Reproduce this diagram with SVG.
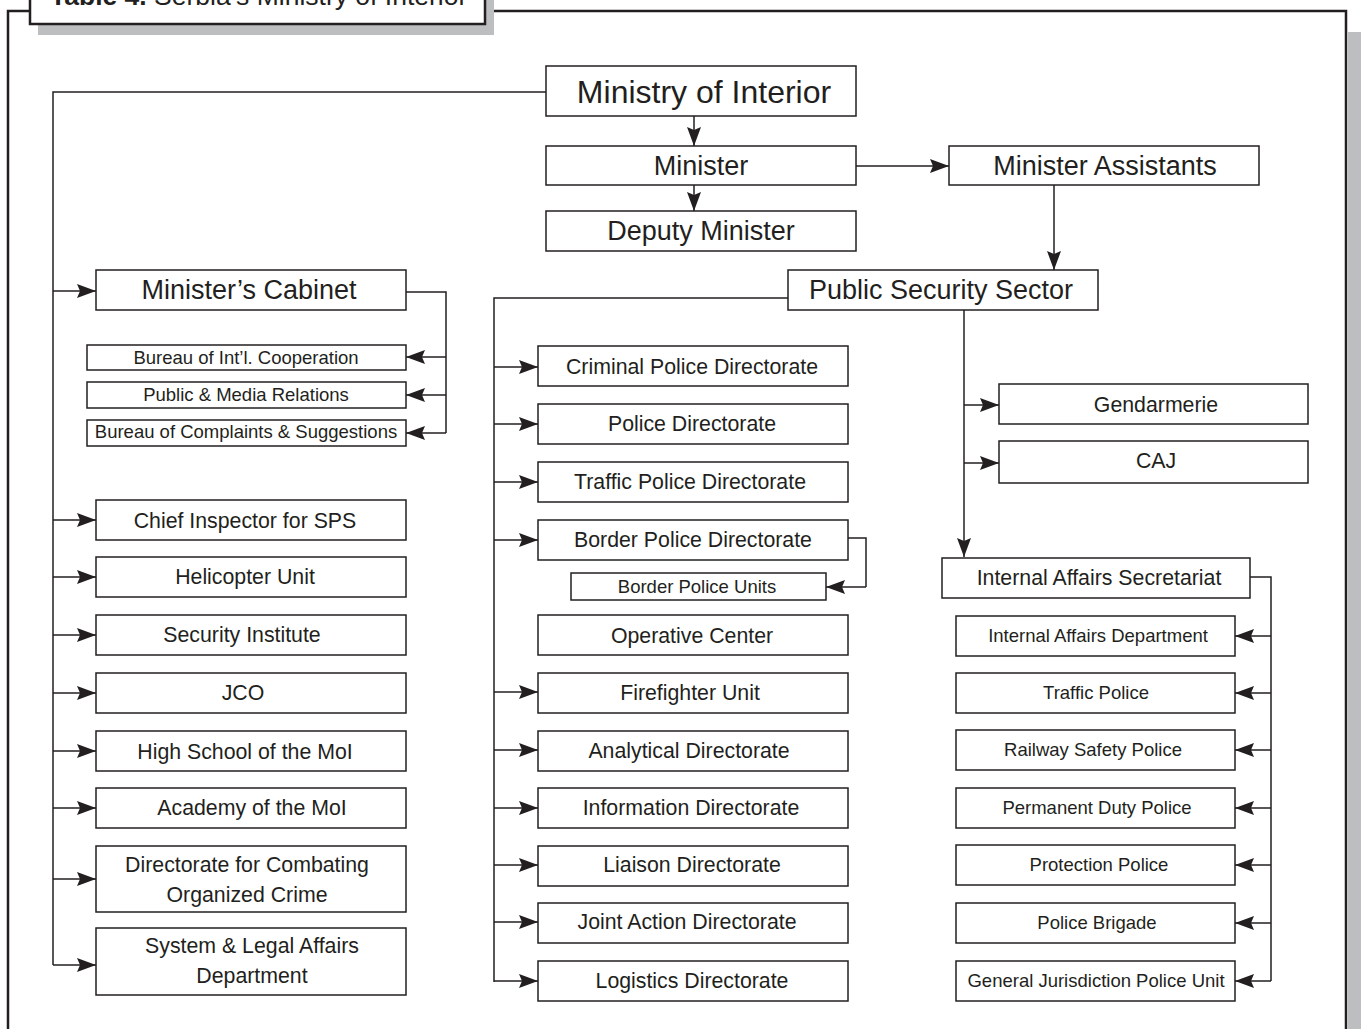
<svg xmlns="http://www.w3.org/2000/svg" width="1361" height="1029" viewBox="0 0 1361 1029">
<style>
.box{fill:#fff;stroke:#231f20;stroke-width:1.5}
.t{font-family:"Liberation Sans",Arial,sans-serif;fill:#231f20;text-anchor:middle}
.big{font-size:27px}
.mid{font-size:21.3px}
.sm{font-size:18.5px}
.l{fill:none;stroke:#231f20;stroke-width:1.5}
.a{fill:none;stroke:#231f20;stroke-width:1.5;marker-end:url(#ah)}
</style>
<defs>
<marker id="ah" markerUnits="userSpaceOnUse" markerWidth="20" markerHeight="16" refX="19" refY="8" orient="auto">
<path d="M0,1 L19,8 L0,15 L3,8 Z" fill="#231f20"/>
</marker>
</defs>
<rect width="1361" height="1029" fill="#fff"/>
<rect x="1348" y="32" width="13" height="1000" fill="#bcbec0"/>
<path d="M8,1029 V11 H1346 V1029" fill="none" stroke="#231f20" stroke-width="2.5"/>
<g id="title">
<rect x="38" y="-5" width="456" height="40" fill="#bcbec0"/>
<rect x="30" y="-5" width="455" height="29" fill="#fff" stroke="#231f20" stroke-width="2.5"/>
<text x="50" y="5" font-family="Liberation Sans,Arial,sans-serif" font-size="26.5" fill="#231f20"><tspan font-weight="bold">Table  4.</tspan> Serbia’s Ministry of Interior</text>
</g>
<g id="connectors">
<path class="a" d="M694,116 V146"/>
<path class="a" d="M694,185 V211"/>
<path class="a" d="M856,166 H949"/>
<path class="a" d="M1054,185 V270"/>
<path class="l" d="M546,92 H53 V965"/>
<path class="a" d="M53,291 H96"/>
<path class="a" d="M53,520 H96"/>
<path class="a" d="M53,577 H96"/>
<path class="a" d="M53,635 H96"/>
<path class="a" d="M53,693 H96"/>
<path class="a" d="M53,751 H96"/>
<path class="a" d="M53,808 H96"/>
<path class="a" d="M53,879 H96"/>
<path class="a" d="M53,965 H96"/>
<path class="l" d="M406,292 H446 V433"/>
<path class="a" d="M446,357 H406"/>
<path class="a" d="M446,395 H406"/>
<path class="a" d="M446,433 H406"/>
<path class="l" d="M788,298 H494 V982"/>
<path class="a" d="M494,367 H538"/>
<path class="a" d="M494,424 H538"/>
<path class="a" d="M494,482 H538"/>
<path class="a" d="M494,540 H538"/>
<path class="a" d="M494,692 H538"/>
<path class="a" d="M494,750 H538"/>
<path class="a" d="M494,808 H538"/>
<path class="a" d="M494,865 H538"/>
<path class="a" d="M494,922 H538"/>
<path class="a" d="M494,981 H538"/>
<path class="l" d="M848,538 H866 V587"/>
<path class="a" d="M866,587 H826"/>
<path class="a" d="M964,310 V557"/>
<path class="a" d="M964,405 H999"/>
<path class="a" d="M964,463 H999"/>
<path class="l" d="M1250,577 H1271 V981"/>
<path class="a" d="M1271,636 H1235"/>
<path class="a" d="M1271,693 H1235"/>
<path class="a" d="M1271,750 H1235"/>
<path class="a" d="M1271,808 H1235"/>
<path class="a" d="M1271,865 H1235"/>
<path class="a" d="M1271,923 H1235"/>
<path class="a" d="M1271,981 H1235"/>
</g>
<g id="n-ministry"><rect class="box" x="546" y="66" width="310" height="50"/><text class="t" x="704" y="103" font-size="32">Ministry of Interior</text></g>
<g id="n-minister"><rect class="box" x="546" y="146" width="310" height="39"/><text class="t big" x="701" y="175">Minister</text></g>
<g id="n-deputy"><rect class="box" x="546" y="211" width="310" height="40"/><text class="t big" x="701" y="240">Deputy Minister</text></g>
<g id="n-assistants"><rect class="box" x="949" y="146" width="310" height="39"/><text class="t big" x="1105" y="175">Minister Assistants</text></g>
<g id="n-pss"><rect class="box" x="788" y="270" width="310" height="40"/><text class="t big" x="941" y="299">Public Security Sector</text></g>
<g id="n-cabinet"><rect class="box" x="96" y="270" width="310" height="40"/><text class="t big" x="249" y="299">Minister’s Cabinet</text></g>
<g id="n-bureau-intl"><rect class="box" x="87" y="345" width="319" height="25"/><text class="t sm" x="246" y="364">Bureau of Int’l. Cooperation</text></g>
<g id="n-media"><rect class="box" x="87" y="382" width="319" height="26"/><text class="t sm" x="246" y="401">Public &amp; Media Relations</text></g>
<g id="n-complaints"><rect class="box" x="87" y="420" width="319" height="26"/><text class="t sm" x="246" y="438">Bureau of Complaints &amp; Suggestions</text></g>
<g id="n-chief"><rect class="box" x="96" y="500" width="310" height="40"/><text class="t mid" x="245" y="528">Chief Inspector for SPS</text></g>
<g id="n-heli"><rect class="box" x="96" y="557" width="310" height="40"/><text class="t mid" x="245" y="584">Helicopter Unit</text></g>
<g id="n-secinst"><rect class="box" x="96" y="615" width="310" height="40"/><text class="t mid" x="242" y="642">Security Institute</text></g>
<g id="n-jco"><rect class="box" x="96" y="673" width="310" height="40"/><text class="t mid" x="243" y="700">JCO</text></g>
<g id="n-highschool"><rect class="box" x="96" y="731" width="310" height="40"/><text class="t mid" x="245" y="759">High School of the MoI</text></g>
<g id="n-academy"><rect class="box" x="96" y="788" width="310" height="40"/><text class="t mid" x="252" y="815">Academy of the MoI</text></g>
<g id="n-organized"><rect class="box" x="96" y="846" width="310" height="66"/><text class="t mid" x="247" y="872">Directorate for Combating</text><text class="t mid" x="247" y="902">Organized Crime</text></g>
<g id="n-system"><rect class="box" x="96" y="928" width="310" height="67"/><text class="t mid" x="252" y="953">System &amp; Legal Affairs</text><text class="t mid" x="252" y="983">Department</text></g>
<g id="n-criminal"><rect class="box" x="538" y="346" width="310" height="40"/><text class="t mid" x="692" y="374">Criminal Police Directorate</text></g>
<g id="n-police"><rect class="box" x="538" y="404" width="310" height="40"/><text class="t mid" x="692" y="431">Police Directorate</text></g>
<g id="n-traffic"><rect class="box" x="538" y="462" width="310" height="40"/><text class="t mid" x="690" y="489">Traffic Police Directorate</text></g>
<g id="n-border"><rect class="box" x="538" y="520" width="310" height="40"/><text class="t mid" x="693" y="547">Border Police Directorate</text></g>
<g id="n-borderunits"><rect class="box" x="571" y="573" width="255" height="27"/><text class="t sm" x="697" y="593">Border Police Units</text></g>
<g id="n-operative"><rect class="box" x="538" y="615" width="310" height="40"/><text class="t mid" x="692" y="643">Operative Center</text></g>
<g id="n-fire"><rect class="box" x="538" y="673" width="310" height="40"/><text class="t mid" x="690" y="700">Firefighter Unit</text></g>
<g id="n-analytical"><rect class="box" x="538" y="731" width="310" height="40"/><text class="t mid" x="689" y="758">Analytical Directorate</text></g>
<g id="n-information"><rect class="box" x="538" y="788" width="310" height="40"/><text class="t mid" x="691" y="815">Information Directorate</text></g>
<g id="n-liaison"><rect class="box" x="538" y="846" width="310" height="40"/><text class="t mid" x="692" y="872">Liaison Directorate</text></g>
<g id="n-joint"><rect class="box" x="538" y="903" width="310" height="40"/><text class="t mid" x="687" y="929">Joint Action Directorate</text></g>
<g id="n-logistics"><rect class="box" x="538" y="961" width="310" height="40"/><text class="t mid" x="692" y="988">Logistics Directorate</text></g>
<g id="n-gendarmerie"><rect class="box" x="999" y="384" width="309" height="40"/><text class="t mid" x="1156" y="412">Gendarmerie</text></g>
<g id="n-caj"><rect class="box" x="999" y="441" width="309" height="42"/><text class="t mid" x="1156" y="468">CAJ</text></g>
<g id="n-ias"><rect class="box" x="942" y="558" width="308" height="40"/><text class="t mid" x="1099" y="585">Internal Affairs Secretariat</text></g>
<g id="n-iad"><rect class="box" x="956" y="616" width="279" height="40"/><text class="t sm" x="1098" y="642">Internal Affairs Department</text></g>
<g id="n-trafficpolice"><rect class="box" x="956" y="673" width="279" height="40"/><text class="t sm" x="1096" y="699">Traffic Police</text></g>
<g id="n-railway"><rect class="box" x="956" y="730" width="279" height="40"/><text class="t sm" x="1093" y="756">Railway Safety Police</text></g>
<g id="n-permanent"><rect class="box" x="956" y="788" width="279" height="40"/><text class="t sm" x="1097" y="814">Permanent Duty Police</text></g>
<g id="n-protection"><rect class="box" x="956" y="845" width="279" height="40"/><text class="t sm" x="1099" y="871">Protection Police</text></g>
<g id="n-brigade"><rect class="box" x="956" y="903" width="279" height="40"/><text class="t sm" x="1097" y="929">Police Brigade</text></g>
<g id="n-general"><rect class="box" x="956" y="961" width="279" height="40"/><text class="t sm" x="1096" y="987">General Jurisdiction Police Unit</text></g>
</svg>
